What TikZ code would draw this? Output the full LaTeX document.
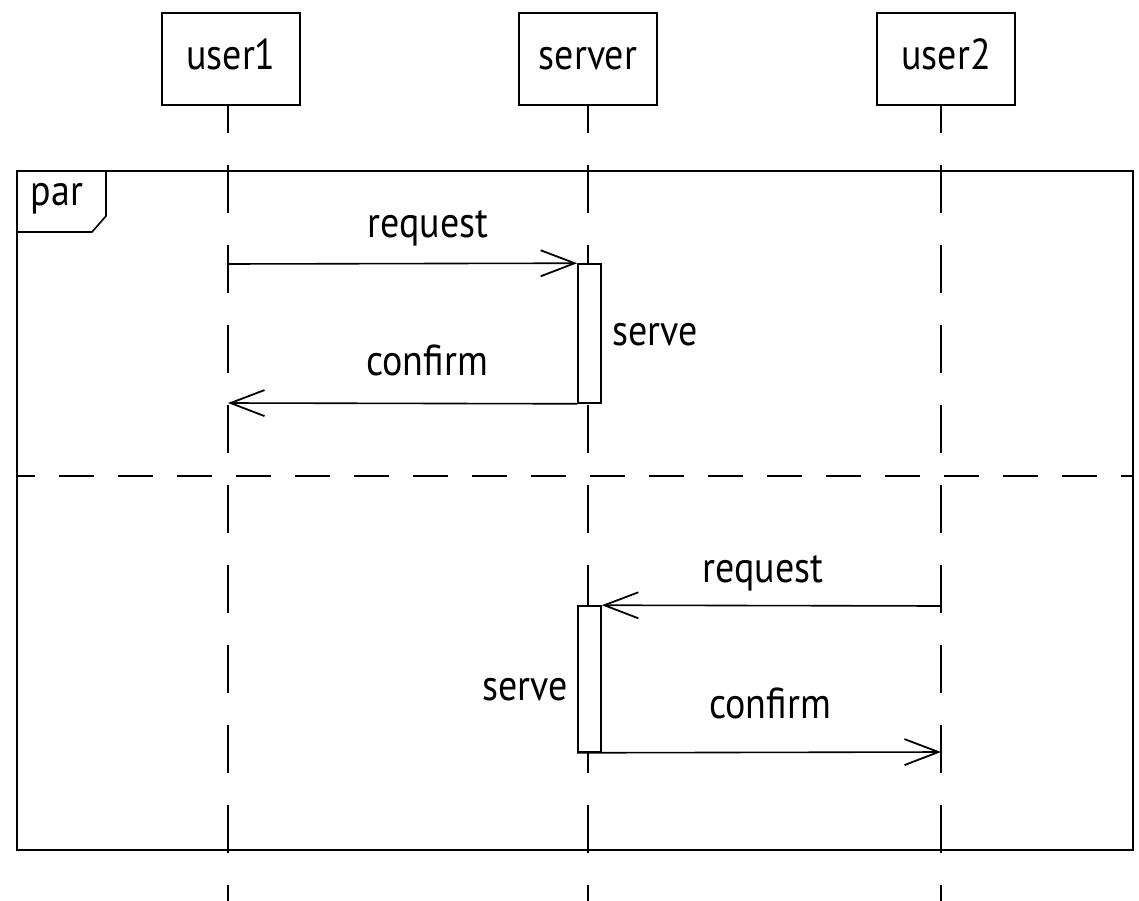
\documentclass[tikz,border=0pt]{standalone}
\usepackage{fontspec}
\usepackage{graphicx}
\setmainfont{PT Sans}
\usetikzlibrary{arrows.meta}
\newcommand{\tallt}[1]{\scalebox{1}[1.14]{#1}}
\begin{document}
\begin{tikzpicture}[x=1pt,y=-1pt,
  every node/.style={font=\fontsize{38}{40}\selectfont},
  objbox/.style={draw,line width=1.6pt,minimum width=138pt,minimum height=92pt,inner sep=0pt},
  actbox/.style={draw,fill=white,line width=1.6pt,minimum width=23pt,inner sep=0pt},
  lifeline/.style={line width=1.6pt,dash pattern=on 48pt off 32pt,dash phase=20pt},
  msg/.style={line width=1.6pt,-{Straight Barb[length=34pt,width=26pt,line width=1.8pt]}},
  lbl/.style={anchor=base,inner sep=0pt}]
\useasboundingbox (0,0) rectangle (1139,901);
% objects
\node[objbox] (u1) at (231,59) {};
\node[lbl] (u1t) at (231,70) {\tallt{user1}};
\node[objbox] (sv) at (588,59) {};
\node[lbl] (svt) at (588,70) {\tallt{server}};
\node[objbox] (u2) at (946,59) {};
\node[lbl] (u2t) at (946,70) {\tallt{user2}};
% lifeline coordinates
\coordinate (u1top) at (228,105);
\coordinate (u1bot) at (228,901);
\coordinate (svtop) at (588,105);
\coordinate (svbot) at (588,901);
\coordinate (u2top) at (941,105);
\coordinate (u2bot) at (941,901);
\draw[lifeline] (u1top) -- (u1bot);
\draw[lifeline] (svtop) -- (svbot);
\draw[lifeline] (u2top) -- (u2bot);
% combined fragment
\coordinate (fnw) at (17,171);
\coordinate (fse) at (1133,850);
\draw[line width=1.6pt] (fnw) rectangle (fse);
\coordinate (sepl) at (17,476);
\coordinate (sepr) at (1133,476);
\draw[line width=1.6pt,dash pattern=on 35pt off 24pt,dash phase=17pt] (sepl) -- (sepr);
\draw[line width=1.6pt] (106,171) -- (106,216) -- (92,232) -- (17,232);
\node[lbl] (par) at (57,206) {\tallt{par}};
% activations
\node[actbox,minimum height=139pt] (a1) at (589.5,333.5) {};
\node[actbox,minimum height=146pt] (a2) at (589.5,679) {};
% messages
\coordinate (m1s) at (228,264);
\draw[msg] (m1s) -- (a1.north west);
\node[lbl] (m1t) at (428,237) {\tallt{request}};
\coordinate (m2e) at (228,403);
\draw[msg] (a1.south west) -- (m2e);
\node[lbl] (m2t) at (427,375) {\tallt{confirm}};
\node[lbl] (s1t) at (655,345) {\tallt{serve}};
\coordinate (m3s) at (941,606);
\draw[msg] (m3s) -- (a2.north east);
\node[lbl] (m3t) at (763,582) {\tallt{request}};
\coordinate (m4e) at (941,752);
\draw[msg] (a2.south west) -- (m4e);
\node[lbl] (m4t) at (770,718) {\tallt{confirm}};
\node[lbl] (s2t) at (525,700) {\tallt{serve}};
\end{tikzpicture}
\end{document}
